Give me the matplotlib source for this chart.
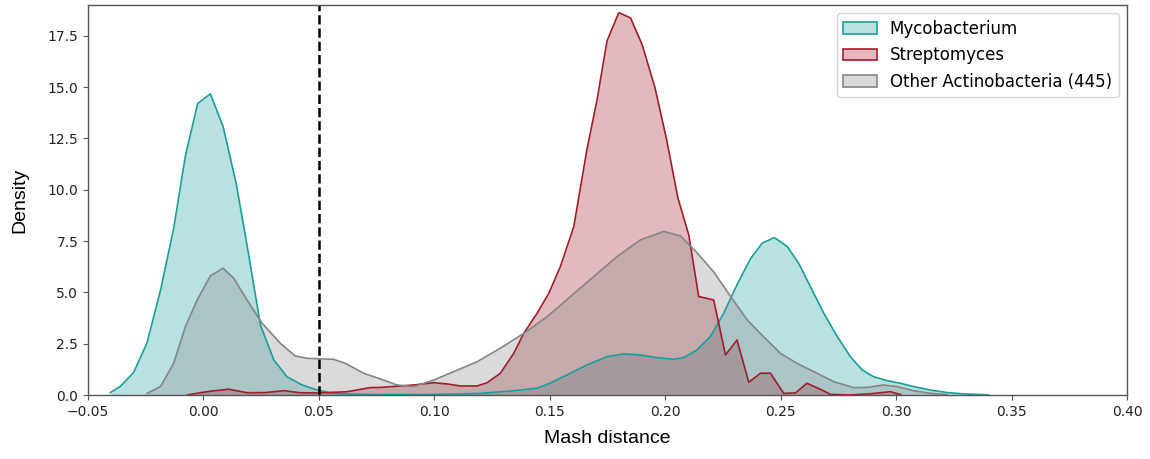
import matplotlib
matplotlib.use("Agg")
import matplotlib.pyplot as plt
from matplotlib.patches import Patch
import numpy as np

# ---- data ----
myco_x = [-0.0403, -0.036, -0.0302, -0.0244, -0.0186, -0.0129, -0.0078, -0.0025, 0.003, 0.0085,
          0.0142, 0.0195, 0.0247, 0.0305, 0.0362, 0.0427, 0.0492, 0.055, 0.062, 0.07, 0.08, 0.09,
          0.10, 0.11, 0.12, 0.1344, 0.1445, 0.150, 0.1575, 0.166, 0.1748, 0.182, 0.1893, 0.1965,
          0.2037, 0.208, 0.2138, 0.2196, 0.2253, 0.231, 0.2369, 0.242, 0.2473, 0.2528, 0.2578,
          0.2636, 0.2687, 0.2745, 0.2802, 0.2853, 0.2903, 0.2961, 0.3019, 0.3076, 0.315, 0.322,
          0.33, 0.34]
myco_y = [0.12, 0.42, 1.1, 2.55, 5.1, 8.1, 11.65, 14.2, 14.67, 13.09,
          10.3, 6.9, 3.4, 1.71, 0.89, 0.49, 0.25, 0.1, 0.05, 0.03, 0.02, 0.02,
          0.03, 0.05, 0.08, 0.21, 0.33, 0.57, 0.98, 1.46, 1.87, 2.0, 1.95, 1.82,
          1.74, 1.82, 2.2, 2.85, 3.98, 5.35, 6.63, 7.4, 7.67, 7.24, 6.42,
          5.12, 3.98, 2.85, 1.87, 1.22, 0.89, 0.70, 0.57, 0.41, 0.24, 0.12,
          0.05, 0.01]

strep_x = [-0.007, -0.002, 0.004, 0.011, 0.019, 0.027, 0.0348, 0.042, 0.05, 0.0622, 0.0723,
           0.0767, 0.0911, 0.0998, 0.1055, 0.1113, 0.1185, 0.1229, 0.1286, 0.1344, 0.1387,
           0.1445, 0.1496, 0.1546, 0.1604, 0.166, 0.1705, 0.1748, 0.1799, 0.185, 0.19, 0.1955,
           0.2005, 0.2055, 0.2102, 0.2145, 0.221, 0.2261, 0.2311, 0.2362, 0.2412, 0.2456,
           0.2513, 0.2564, 0.2614, 0.2672, 0.2716, 0.28, 0.2888, 0.2975, 0.302]
strep_y = [0.0, 0.1, 0.2, 0.28, 0.11, 0.12, 0.21, 0.11, 0.1, 0.16, 0.36,
           0.37, 0.49, 0.6, 0.54, 0.44, 0.44, 0.6, 1.06, 2.03, 3.0,
           3.98, 4.96, 6.26, 8.2, 11.9, 14.39, 17.25, 18.63, 18.37, 17.07, 15.0,
           12.5, 9.6, 7.8, 4.8, 4.63, 1.95, 2.68, 0.62, 1.06, 1.06,
           0.08, 0.1, 0.57, 0.28, 0.03, 0.0, 0.06, 0.16, 0.02]

other_x = [-0.0244, -0.0186, -0.0129, -0.0078, -0.0027, 0.003, 0.0085, 0.0131, 0.0189, 0.0254,
           0.0333, 0.0398, 0.0449, 0.0507, 0.0564, 0.0615, 0.0694, 0.0767, 0.0839, 0.0911,
           0.0998, 0.1084, 0.1185, 0.1286, 0.1387, 0.1489, 0.159, 0.169, 0.1792, 0.1893,
           0.1994, 0.2066, 0.214, 0.221, 0.228, 0.2355, 0.2412, 0.2499, 0.2571, 0.2643,
           0.273, 0.2816, 0.2874, 0.2946, 0.3004, 0.3076, 0.315, 0.322]
other_y = [0.08, 0.41, 1.54, 3.33, 4.63, 5.8, 6.18, 5.69, 4.63, 3.5,
           2.52, 1.9, 1.79, 1.76, 1.74, 1.54, 1.06, 0.78, 0.49, 0.41,
           0.73, 1.14, 1.62, 2.28, 3.0, 3.82, 4.8, 5.77, 6.75, 7.56,
           7.97, 7.75, 6.9, 6.0, 4.85, 3.66, 3.0, 2.03, 1.54, 1.14,
           0.65, 0.36, 0.37, 0.49, 0.41, 0.21, 0.08, 0.02]

labels = ["Mycobacterium", "Streptomyces", "Other Actinobacteria (445)"]
threshold = 0.05
xticks = [-0.05, 0.00, 0.05, 0.10, 0.15, 0.20, 0.25, 0.30, 0.35, 0.40]
yticks = [0.0, 2.5, 5.0, 7.5, 10.0, 12.5, 15.0, 17.5]

# ---- styles ----
line_colors = ["#1a9e9c", "#a11d2a", "#858585"]
alpha = 0.3

fig = plt.figure(figsize=(11.5, 4.59), dpi=100)
ax = fig.add_axes([0.0765, 0.1394, 0.9035, 0.8497])

series = [(myco_x, myco_y), (strep_x, strep_y), (other_x, other_y)]
handles = []
for (xs, ys), lc, lab in zip(series, line_colors, labels):
    ax.fill_between(xs, ys, 0, color=lc, alpha=alpha, linewidth=0)
    ax.plot(xs, ys, color=lc, linewidth=1.2)
    handles.append(Patch(facecolor=matplotlib.colors.to_rgba(lc, alpha), edgecolor=lc,
                         linewidth=1.2, label=lab))

ax.axvline(threshold, color="black", linestyle="--", linewidth=1.8)

ax.set_xlim(-0.05, 0.40)
ax.set_ylim(0, 19.0)
ax.set_xticks(xticks)
ax.set_yticks(yticks)
ax.set_xticklabels([f"{t:.2f}".replace("-", "\u2212") for t in xticks], fontsize=10)
ax.set_yticklabels([f"{t:.1f}" for t in yticks], fontsize=10)
ax.set_xlabel("Mash distance", fontsize=14, family="Liberation Sans", labelpad=8)
ax.set_ylabel("Density", fontsize=14, family="Liberation Sans", labelpad=14)

for s in ax.spines.values():
    s.set_color("#555555")
    s.set_linewidth(1.0)
ax.tick_params(colors="#222222", color="#555555")

leg = ax.legend(handles=handles, loc="upper right", fontsize=12, frameon=True,
                fancybox=True, framealpha=0.8)
leg.get_frame().set_edgecolor("#cccccc")

fig.savefig("out.png", dpi=100)
